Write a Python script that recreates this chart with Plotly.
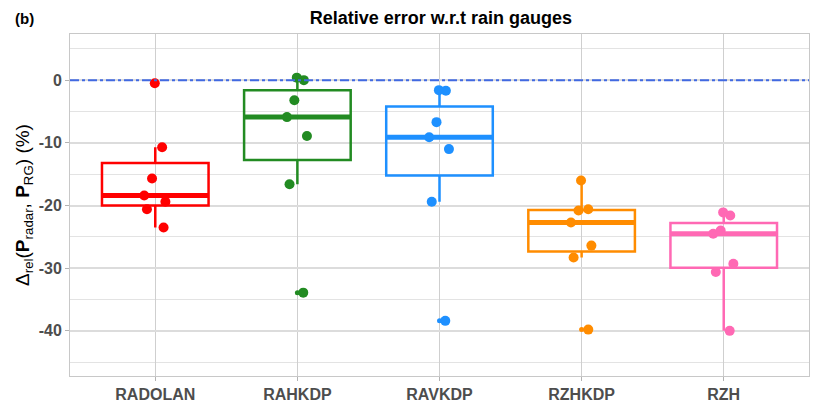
import numpy as np
import plotly.graph_objects as go

# relative error (%) of each radar product w.r.t. rain gauges
products = ["RADOLAN", "RAHKDP", "RAVKDP", "RZHKDP", "RZH"]
radolan = [-0.5, -10.7, -15.7, -18.4, -19.4, -20.6, -23.5]
rahkdp = [0.4, 0.0, -3.2, -5.9, -8.9, -16.6, -33.9]
ravkdp = [-1.7, -1.6, -6.7, -9.1, -11.0, -19.4, -38.4]
rzhkdp = [-16.0, -20.6, -20.8, -22.7, -26.4, -28.3, -39.8]
rzh = [-21.1, -21.6, -24.0, -24.5, -29.3, -30.6, -40.0]
colors = ["#FF0000", "#228B22", "#1E90FF", "#FF8C00", "#FF69B4"]

y_ticks = [-40, -30, -20, -10, 0]
y_tick_labels = ["-40", "-30", "-20", "-10", "0"]
ref_level = 0  # perfect agreement

groups = [radolan, rahkdp, ravkdp, rzhkdp, rzh]
BOX_W = 0.75
X_RANGE = [0.4, len(products) + 0.6]

fig = go.Figure()

# reference line (drawn first so the points sit on top)
fig.add_trace(go.Scatter(
    x=X_RANGE, y=[ref_level, ref_level], mode="lines",
    line=dict(color="#4169E1", width=2, dash="dashdot"),
    hoverinfo="skip",
))

for i, (vals, col) in enumerate(zip(groups, colors), start=1):
    xs = [i] * len(vals)
    # boxplot (ggplot-like: Tukey whiskers, outliers at centre)
    fig.add_trace(go.Box(
        x=xs, y=vals,
        quartilemethod="inclusive",
        boxpoints="outliers",
        width=BOX_W,
        whiskerwidth=0,
        line=dict(color=col, width=2.5),
        fillcolor="rgba(255,255,255,0)",
        marker=dict(color=col, size=5),
        hoverinfo="skip",
    ))
    # thicker median line
    med = float(np.median(vals))
    fig.add_trace(go.Scatter(
        x=[i - BOX_W / 2, i + BOX_W / 2], y=[med, med],
        mode="lines", line=dict(color=col, width=5),
        hoverinfo="skip",
    ))
    # jittered sample points
    fig.add_trace(go.Box(
        x=xs, y=vals,
        boxpoints="all", jitter=0.3, pointpos=0,
        width=BOX_W,
        line=dict(color="rgba(0,0,0,0)", width=0),
        fillcolor="rgba(0,0,0,0)",
        marker=dict(color=col, size=10, opacity=1),
        hoverinfo="skip",
    ))

tick_font = dict(family="Liberation Sans, Arial", size=16, color="#4D4D4D", weight="bold")

fig.update_layout(
    width=813, height=402,
    margin=dict(l=70, r=4, t=34, b=26),
    plot_bgcolor="white", paper_bgcolor="white",
    showlegend=False,
    boxmode="overlay",
    font=dict(family="Liberation Sans, Arial", color="black"),
    title=dict(
        text="<b>Relative error w.r.t rain gauges</b>",
        x=0.5423, xanchor="center", y=1 - 18 / 402, yanchor="middle",
        font=dict(size=18, color="black"),
    ),
    xaxis=dict(
        range=X_RANGE,
        tickvals=[1, 2, 3, 4, 5], ticktext=products,
        tickfont=tick_font,
        automargin=False,
        showgrid=True, gridcolor="#CFCFCF", gridwidth=1,
        zeroline=False,
        showline=True, mirror=True, linecolor="#C8C8C8", linewidth=1,
        ticks="outside", ticklen=4, tickcolor="#B3B3B3",
    ),
    yaxis=dict(
        range=[-47.2, 7.36],
        tickvals=y_ticks, ticktext=y_tick_labels,
        tickfont=tick_font,
        automargin=False,
        showgrid=True, gridcolor="#DCDCDC", gridwidth=1.5,
        minor=dict(dtick=5, tick0=0, showgrid=True, gridcolor="#E3E3E3", gridwidth=1.2),
        zeroline=False,
        showline=True, mirror=True, linecolor="#C8C8C8", linewidth=1,
        ticks="outside", ticklen=4, tickcolor="#B3B3B3",
        title=dict(
            text="Δ<sub>rel</sub>(<b>P</b><sub>radar</sub>, <b>P</b><sub>RG</sub>) (%)",
            font=dict(size=19, color="black"),
            standoff=4,
        ),
    ),
)

fig.add_annotation(
    text="<b>(b)</b>", xref="paper", yref="paper",
    x=(24 - 70) / 739, y=(376 - 18.5) / 342, xanchor="center", yanchor="middle",
    showarrow=False, font=dict(size=15, color="black"),
)

# drop the default page margin so the figure sits at the window's corner
fig.write_html(
    "out.html",
    config={"displayModeBar": False},
    post_script="document.body.style.margin='0';",
)
